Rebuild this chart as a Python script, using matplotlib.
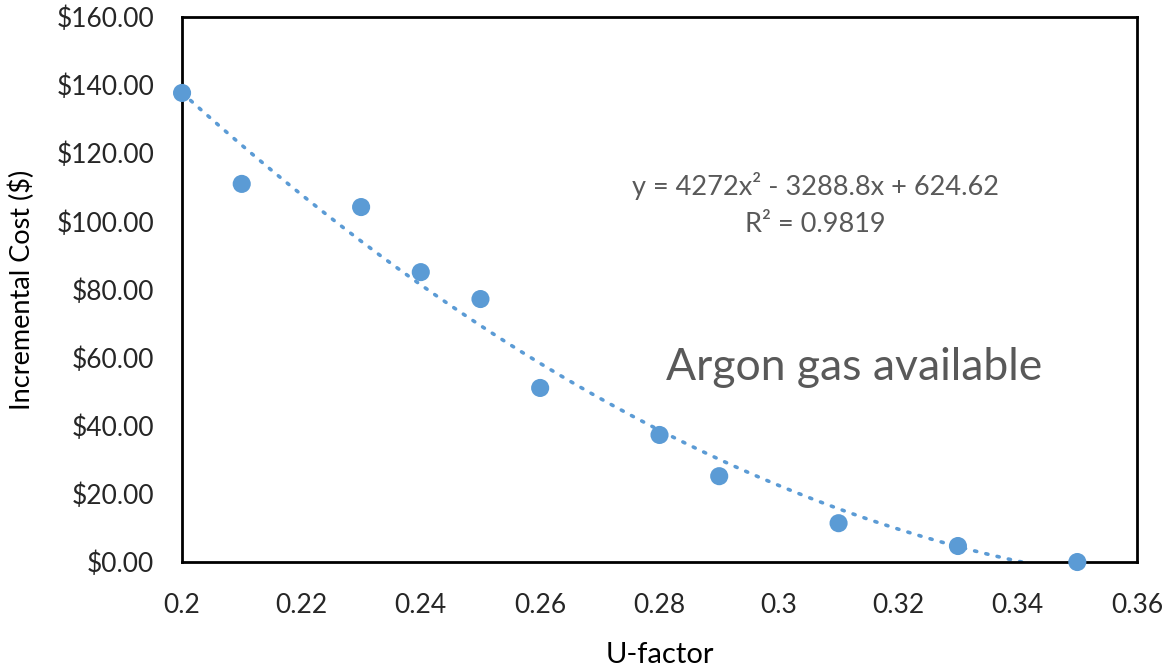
import numpy as np
import matplotlib.pyplot as plt
from matplotlib.ticker import FuncFormatter, MultipleLocator

plt.rcParams['font.family'] = ['Lato', 'DejaVu Sans']

# U-factor vs incremental cost, argon-filled units
u_factor = [0.20, 0.21, 0.23, 0.24, 0.25, 0.26, 0.28, 0.29, 0.31, 0.33, 0.35]
cost = [137.7, 111.0, 104.2, 85.1, 77.2, 51.1, 37.3, 25.2, 11.4, 4.7, 0.0]

# quadratic trendline coefficients
coef = [4272, -3288.8, 624.62]
r2 = 0.9819

blue = '#5B9BD5'
grey = '#595959'

fig = plt.figure(figsize=(11.64, 6.71), dpi=100)
ax = fig.add_axes([0.1564, 0.1624, 0.8204, 0.8123])

xs = np.linspace(0.2, 0.35, 200)
ax.plot(xs, np.polyval(coef, xs), color=blue, lw=2.6,
        linestyle=(0, (0.6, 2.6)), dash_capstyle='round', zorder=2)
ax.scatter(u_factor, cost, s=170, color=blue, zorder=3, clip_on=False,
           edgecolors='none')

ax.set_xlim(0.2, 0.36)
ax.set_ylim(0, 160)
ax.xaxis.set_major_locator(MultipleLocator(0.02))
ax.yaxis.set_major_locator(MultipleLocator(20))
ax.xaxis.set_major_formatter(FuncFormatter(lambda v, p: f'{v:.2f}'.rstrip('0')))
ax.yaxis.set_major_formatter(FuncFormatter(lambda v, p: f'${v:.2f}'))
ax.tick_params(length=0, labelsize=19, labelcolor='#262626')
ax.tick_params(axis='y', pad=20)
ax.tick_params(axis='x', pad=22)
for s in ax.spines.values():
    s.set_linewidth(2)
    s.set_color('black')

ax.set_xlabel('U-factor', fontsize=21, color='black', va='center')
ax.set_ylabel('Incremental Cost ($)', fontsize=19.5, color='black', va='center')
ax.xaxis.set_label_coords(0.5, -0.171)
ax.yaxis.set_label_coords(-0.168, 0.5)

ax.text(0.663, 0.690, 'y = 4272x² - 3288.8x + 624.62', transform=ax.transAxes,
        ha='center', va='center', fontsize=19.5, color=grey)
ax.text(0.663, 0.620, f'R² = {r2}', transform=ax.transAxes,
        ha='center', va='center', fontsize=19.5, color=grey)
ax.text(0.507, 0.356, 'Argon gas available', transform=ax.transAxes,
        ha='left', va='center', fontsize=32, color=grey)

fig.savefig('out.png', dpi=100)
